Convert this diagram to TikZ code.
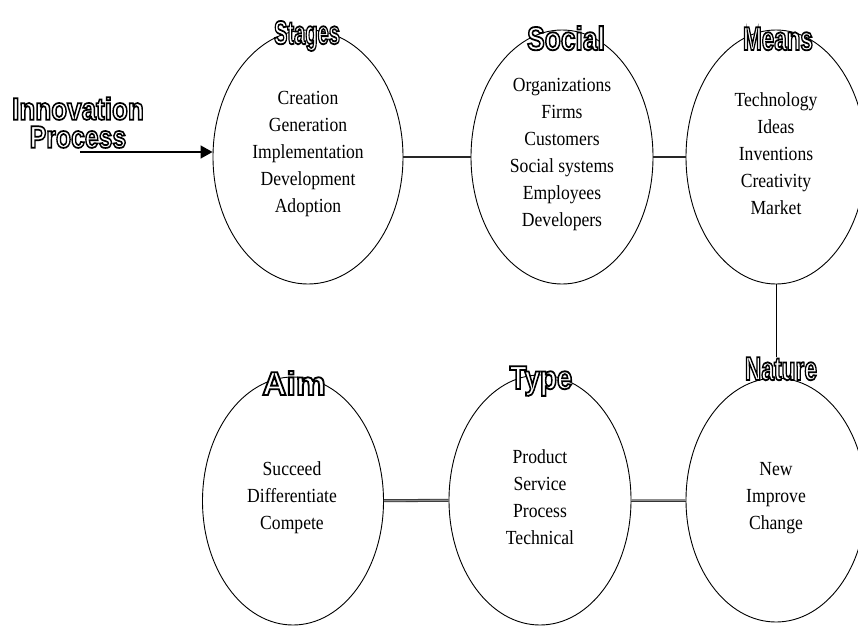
\documentclass[tikz,border=0pt]{standalone}
\usepackage{fontspec}
\usepackage{graphicx}
\setmainfont{Liberation Serif}[FakeStretch=0.88]
\newfontfamily\titlefont{Liberation Sans Bold}[FakeBold=5.5]
\usetikzlibrary{shapes.geometric,arrows.meta}
\newcommand{\otitle}[2]{\special{pdf:literal direct 0 0 0 RG}\scalebox{#1}[1]{#2}}
\tikzset{
  circ/.style={draw=black, line width=0.9pt, ellipse, inner sep=0pt},
  body/.style={align=center, font=\fontsize{20}{27}\selectfont, inner sep=0pt},
  ttl/.style={anchor=base, inner sep=0pt, text=white, font=\titlefont\fontsize{33}{33}\selectfont},
  link/.style={line width=1.4pt, draw=black!85},
  dlink/.style={draw=black!80, line width=0.8pt, double=black!45, double distance=1.4pt},
}
\begin{document}
\begin{tikzpicture}[x=1pt,y=-1pt]
\useasboundingbox (0,0) rectangle (858,626);
\clip (0,0) rectangle (858,626);
\fill[white] (0,0) rectangle (858,626);
% ellipses
\node[circ, minimum width=190pt, minimum height=254pt] (stages) at (308,157) {};
\node[circ, minimum width=182pt, minimum height=254pt] (social) at (562,157) {};
\node[circ, minimum width=180pt, minimum height=254pt] (means) at (776,157) {};
\node[circ, minimum width=181pt, minimum height=248pt] (aim) at (293,501) {};
\node[circ, minimum width=182pt, minimum height=250pt] (type) at (540,500) {};
\node[circ, minimum width=180pt, minimum height=244pt] (nature) at (776,500) {};
% body texts
\node[body] (stagesT) at (308,154) {Creation\\Generation\\Implementation\\Development\\Adoption};
\node[body] (socialT) at (562,155) {Organizations\\Firms\\Customers\\Social systems\\Employees\\Developers};
\node[body] (meansT) at (776,154) {Technology\\Ideas\\Inventions\\Creativity\\Market};
\node[body] (aimT) at (292,498) {Succeed\\Differentiate\\Compete};
\node[body] (typeT) at (540,497) {Product\\Service\\Process\\Technical};
\node[body] (natureT) at (776,498) {New\\Improve\\Change};
% connectors
\coordinate (astart) at (80,152);
\draw[line width=1.4pt, -{Triangle[length=12pt,width=13pt]}] (astart) -- (astart -| stages.west);
\draw[link] (stages) -- (social);
\draw[link] (social) -- (means);
\draw[dlink] (aim) -- (type);
\draw[dlink] (type) -- (nature);
% titles
\node[ttl] (stagesH) at (307,44) {\otitle{0.61}{Stages}};
\node[ttl] (socialH) at (566,50) {\otitle{0.80}{Social}};
\node[ttl] (meansH) at (778,50) {\otitle{0.68}{Means}};
\node[ttl] (natureH) at (781,380) {\otitle{0.69}{Nature}};
\node[ttl] (aimH) at (294,395) {\otitle{1.02}{Aim}};
\node[ttl] (typeH) at (541,389) {\otitle{0.84}{Type}};
\node[ttl, align=center, anchor=north, font=\titlefont\fontsize{31}{28}\selectfont] (innov) at (78,97) {\otitle{0.84}{Innovation}\\\otitle{0.80}{Process}};
\draw[line width=1pt] (means.south) -- (means.south |- natureH.north);
\end{tikzpicture}
\end{document}
